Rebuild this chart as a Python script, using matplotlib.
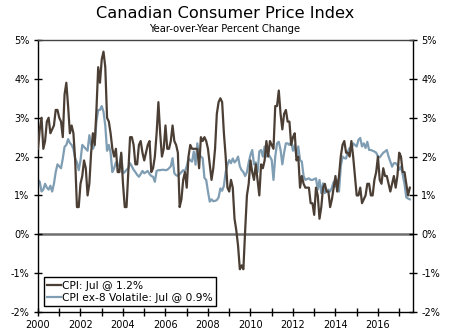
import matplotlib
matplotlib.use('Agg')
import matplotlib.pyplot as plt
import numpy as np

# Monthly y/y % change, Jan 2000 - Jul 2017
cpi = [
    2.2, 2.7, 3.0, 2.2, 2.4, 2.9, 3.0, 2.6, 2.7, 2.8, 3.2, 3.2,   # 2000
    3.0, 2.9, 2.5, 3.6, 3.9, 3.3, 2.6, 2.8, 2.6, 1.9, 0.7, 0.7,   # 2001
    1.3, 1.5, 1.9, 1.7, 1.0, 1.3, 2.1, 2.6, 2.3, 3.2, 4.3, 3.9,   # 2002
    4.5, 4.7, 4.3, 3.0, 2.9, 2.6, 2.2, 2.0, 2.2, 1.6, 1.6, 2.1,   # 2003
    1.3, 0.7, 0.7, 1.6, 2.5, 2.5, 2.3, 1.8, 1.8, 2.3, 2.4, 2.1,   # 2004
    1.9, 2.1, 2.3, 2.4, 1.6, 1.7, 2.0, 2.6, 3.4, 2.6, 2.0, 2.2,   # 2005
    2.8, 2.2, 2.2, 2.4, 2.8, 2.4, 2.3, 2.1, 0.7, 0.9, 1.4, 1.6,   # 2006
    1.2, 2.0, 2.3, 2.2, 2.2, 2.2, 2.2, 1.7, 2.5, 2.4, 2.5, 2.4,   # 2007
    2.2, 1.8, 1.4, 1.7, 2.2, 3.1, 3.4, 3.5, 3.4, 2.6, 2.0, 1.2,   # 2008
    1.1, 1.4, 1.2, 0.4, 0.1, -0.3, -0.9, -0.8, -0.9, 0.1, 1.0, 1.3,  # 2009
    1.9, 1.6, 1.4, 1.8, 1.4, 1.0, 1.8, 1.7, 1.9, 2.4, 2.0, 2.4,   # 2010
    2.3, 2.2, 3.3, 3.3, 3.7, 3.1, 2.7, 3.1, 3.2, 2.9, 2.9, 2.3,   # 2011
    2.5, 2.6, 1.9, 2.0, 1.2, 1.5, 1.3, 1.2, 1.2, 1.2, 0.8, 0.8,   # 2012
    0.5, 1.2, 1.0, 0.4, 0.7, 1.2, 1.3, 1.1, 1.1, 0.7, 0.9, 1.2,   # 2013
    1.5, 1.1, 1.5, 2.0, 2.3, 2.4, 2.1, 2.1, 2.0, 2.4, 2.0, 1.5,   # 2014
    1.0, 1.0, 1.2, 0.8, 0.9, 1.0, 1.3, 1.3, 1.0, 1.0, 1.4, 1.6,   # 2015
    2.0, 1.4, 1.3, 1.7, 1.5, 1.5, 1.3, 1.1, 1.3, 1.5, 1.2, 1.5,   # 2016
    2.1, 2.0, 1.6, 1.6, 1.3, 1.0, 1.2,                            # 2017
]

cpi_ex8 = [
    1.4, 1.35, 1.1, 1.15, 1.3, 1.2, 1.15, 1.25, 1.1, 1.3, 1.6, 1.8,     # 2000
    1.75, 1.7, 1.95, 2.25, 2.3, 2.45, 2.35, 2.3, 2.2, 1.95, 1.85, 1.65, # 2001
    1.9, 2.3, 2.25, 2.2, 2.15, 2.55, 2.3, 2.2, 2.3, 2.9, 3.2, 3.2,      # 2002
    3.3, 3.15, 2.8, 2.15, 2.3, 2.1, 1.6, 1.7, 1.85, 1.75, 1.8, 2.05,    # 2003
    1.57, 1.6, 1.66, 1.7, 1.83, 1.75, 1.66, 1.6, 1.53, 1.48, 1.55, 1.63,  # 2004
    1.57, 1.6, 1.63, 1.55, 1.5, 1.48, 1.35, 1.63, 1.65, 1.65, 1.66, 1.66, # 2005
    1.65, 1.66, 1.7, 1.75, 1.96, 1.57, 1.52, 1.5, 1.55, 1.6, 1.65, 1.62,  # 2006
    1.75, 1.96, 1.9, 1.87, 2.13, 1.79, 2.34, 2.04, 2.0, 1.96, 1.45, 1.4,  # 2007
    1.1, 0.84, 0.9, 0.85, 0.86, 0.88, 0.95, 1.18, 1.12, 1.25, 1.6, 1.79, # 2008
    1.91, 1.83, 1.95, 1.85, 1.9, 2.0, 1.75, 1.65, 1.6, 1.5, 1.6, 1.85,   # 2009
    2.04, 2.17, 1.8, 1.85, 1.6, 2.13, 2.17, 2.0, 2.26, 2.0, 2.05, 2.0,   # 2010
    1.91, 1.4, 2.0, 2.34, 2.38, 2.17, 1.8, 2.1, 2.34, 2.34, 2.3, 2.38,   # 2011
    2.15, 2.3, 2.0, 2.26, 1.91, 1.87, 1.5, 1.4, 1.42, 1.44, 1.4, 1.4,    # 2012
    1.42, 1.44, 1.15, 1.4, 1.06, 1.31, 1.06, 1.1, 1.15, 1.1, 1.2, 1.35,  # 2013
    1.23, 1.4, 1.1, 1.74, 2.0, 1.96, 1.95, 2.13, 2.22, 2.2, 2.34, 2.3,   # 2014
    2.26, 2.43, 2.48, 2.26, 2.34, 2.22, 2.38, 2.17, 2.17, 2.15, 2.13, 2.1,  # 2015
    2.0, 1.98, 2.04, 2.1, 2.13, 2.17, 2.0, 1.87, 1.74, 1.83, 1.83, 1.78,  # 2016
    1.66, 1.74, 1.53, 1.3, 0.95, 0.92, 0.9,                              # 2017
]

dates = 2000 + np.arange(len(cpi)) / 12.0

year_ticks = list(range(2000, 2018))
year_labels = [str(y) if y % 2 == 0 else '' for y in year_ticks]
pct_ticks = [-2, -1, 0, 1, 2, 3, 4, 5]
pct_labels = ['%d%%' % v for v in pct_ticks]

brown = '#4b3f35'
blue = '#7f9db3'

fig = plt.figure(figsize=(4.5, 3.31), dpi=100)
ax = fig.add_axes([38/450, 1 - 312/331, 375/450, 272/331])

ax.axhline(0, color='#6f6f6f', lw=1.8, zorder=1)
ax.plot(dates, cpi, color=brown, lw=1.6, label='CPI: Jul @ 1.2%', zorder=3)
ax.plot(dates, cpi_ex8, color=blue, lw=1.6, label='CPI ex-8 Volatile: Jul @ 0.9%', zorder=2)

ax.set_xlim(2000, 2017.65)
ax.set_ylim(-2, 5)
ax.set_xticks(year_ticks)
ax.set_xticklabels(year_labels)
ax.set_yticks(pct_ticks)
ax.set_yticklabels(pct_labels)
ax.tick_params(axis='both', direction='inout', length=6, width=1, labelsize=7, colors='black')
ax.tick_params(axis='y', right=True, labelright=True, pad=3)
ax.tick_params(axis='x', pad=3)
for s in ax.spines.values():
    s.set_linewidth(1)
ax.spines['top'].set_color('#444444')

leg = ax.legend(loc='lower left', bbox_to_anchor=(0.016, 0.022), borderaxespad=0,
                fontsize=7.7, frameon=True, fancybox=False, framealpha=1,
                edgecolor='black', handlelength=1.3, handletextpad=0.1,
                labelspacing=0.2, borderpad=0.3)
leg.get_frame().set_linewidth(1)

fig.text(0.5, 1 - 14/331, 'Canadian Consumer Price Index', ha='center', va='center', fontsize=11.6)
fig.text(0.5, 1 - 28.5/331, 'Year-over-Year Percent Change', ha='center', va='center', fontsize=7.2)

fig.savefig('out.png', dpi=100)
